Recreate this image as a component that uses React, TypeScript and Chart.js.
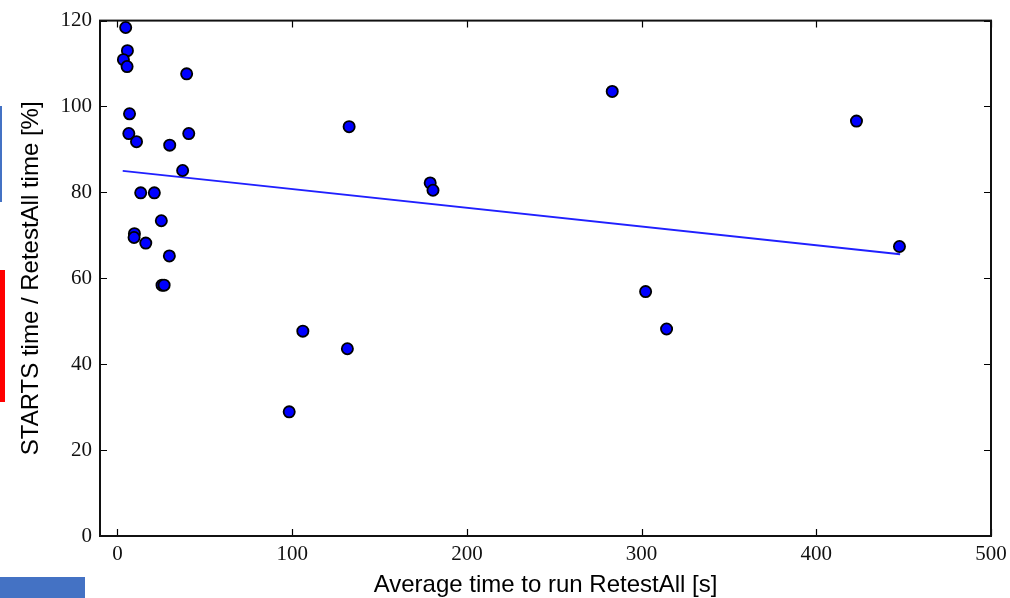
import React, { useEffect, useRef } from "react";
import { Chart, registerables } from "chart.js";

Chart.register(...registerables);

const retestAllTime: number[] = [
  4.7, 5.7, 3.4, 5.5, 39.6, 6.9, 6.5, 10.9, 40.8, 29.9,
  37.3, 13.3, 21.1, 25.1, 9.7, 9.5, 16.2, 29.7, 25.5, 26.7,
  179, 180.6, 283.2, 302.3, 314.3, 423, 447.6, 132.6, 106.1, 131.6, 98.3,
];
const startsRatio: number[] = [
  118.4, 113, 110.9, 109.3, 107.6, 98.3, 93.7, 91.8, 93.7, 91.0,
  85.1, 79.9, 79.9, 73.4, 70.4, 69.5, 68.2, 65.2, 58.4, 58.4,
  82.2, 80.5, 103.5, 56.9, 48.2, 96.6, 67.4, 95.3, 47.7, 43.6, 28.9,
];
const fitX: number[] = [3, 448];
const fitY: number[] = [85.0, 65.6];
const xTicks: number[] = [0, 100, 200, 300, 400, 500];
const yTicks: number[] = [0, 20, 40, 60, 80, 100, 120];
const xTitle = "Average time to run RetestAll [s]";
const yTitle = "STARTS time / RetestAll time [%]";

const framePlugin = {
  id: "frameTicks",
  afterDraw(chart: any) {
    const { ctx, chartArea } = chart;
    const { left, right, top, bottom } = chartArea;
    const xs = chart.scales.x;
    const ys = chart.scales.y;
    ctx.save();
    ctx.strokeStyle = "#000";
    ctx.lineWidth = 1.2;
    const L = 7;
    xTicks.forEach((v) => {
      const px = Math.round(xs.getPixelForValue(v)) + 0.5;
      ctx.beginPath();
      ctx.moveTo(px, bottom);
      ctx.lineTo(px, bottom - L);
      ctx.moveTo(px, top);
      ctx.lineTo(px, top + L);
      ctx.stroke();
    });
    yTicks.forEach((v) => {
      const py = Math.round(ys.getPixelForValue(v)) + 0.5;
      ctx.beginPath();
      ctx.moveTo(left, py);
      ctx.lineTo(left + L, py);
      ctx.moveTo(right, py);
      ctx.lineTo(right - L, py);
      ctx.stroke();
    });
    ctx.lineWidth = 2;
    ctx.strokeStyle = "#111";
    ctx.strokeRect(left, top, right - left, bottom - top);
    ctx.restore();
  },
};

export default function App() {
  const ref = useRef<HTMLCanvasElement | null>(null);
  useEffect(() => {
    if (!ref.current) return;
    const tickFont = { family: "'Liberation Serif', serif", size: 21 };
    const titleFont = { family: "'Liberation Sans', Arial, sans-serif", size: 24 };
    const chart = new Chart(ref.current, {
      type: "scatter",
      data: {
        datasets: [
          {
            label: "projects",
            data: retestAllTime.map((x, i) => ({ x, y: startsRatio[i] })),
            backgroundColor: "#0000ff",
            borderColor: "#000000",
            borderWidth: 1.8,
            pointRadius: 5.6,
            order: 1,
          },
          {
            label: "fit",
            data: fitX.map((x, i) => ({ x, y: fitY[i] })),
            showLine: true,
            borderColor: "#2020ff",
            borderWidth: 1.8,
            pointRadius: 0,
            fill: false,
            order: 2,
          } as any,
        ],
      },
      options: {
        animation: false,
        responsive: false,
        maintainAspectRatio: false,
        layout: { padding: { top: 19, right: 19, left: 0, bottom: 0 } },
        plugins: { legend: { display: false }, tooltip: { enabled: false } },
        scales: {
          x: {
            type: "linear",
            min: -10,
            max: 500,
            grid: { display: false, drawTicks: false },
            border: { display: false },
            afterBuildTicks: (s: any) => {
              s.ticks = xTicks.map((v) => ({ value: v }));
            },
            afterFit: (s: any) => {
              s.height = 62;
              s.paddingLeft = 0;
              s.paddingRight = 0;
            },
            ticks: {
              color: "#111",
              font: tickFont,
              padding: 6,
              maxRotation: 0,
              callback: (v: any) => String(v),
            },
            title: {
              display: true,
              text: xTitle,
              color: "#000",
              font: titleFont,
              padding: { top: 0, bottom: -2 },
            },
          },
          y: {
            type: "linear",
            min: 0,
            max: 120,
            grid: { display: false, drawTicks: false },
            border: { display: false },
            afterBuildTicks: (s: any) => {
              s.ticks = yTicks.map((v) => ({ value: v }));
            },
            afterFit: (s: any) => {
              s.width = 100;
            },
            ticks: {
              color: "#111",
              font: tickFont,
              padding: 8,
              callback: (v: any) => String(v),
            },
            title: {
              display: true,
              text: yTitle,
              color: "#000",
              font: titleFont,
              padding: { top: 17, bottom: 0 },
            },
          },
        },
      },
      plugins: [framePlugin],
    });
    return () => chart.destroy();
  }, []);

  return (
    <div style={{ position: "fixed", left: 0, top: 0, width: 1010, height: 598, background: "#fff", overflow: "hidden" }}>
      <canvas ref={ref} width={1010} height={598} style={{ position: "absolute", left: 0, top: 0, width: 1010, height: 598 }} />
      <div style={{ position: "absolute", left: 0, top: 106, width: 2, height: 96, background: "#4472c4" }} />
      <div style={{ position: "absolute", left: 0, top: 270, width: 5, height: 132, background: "#ff0000" }} />
      <div style={{ position: "absolute", left: 0, top: 577, width: 85, height: 21, background: "#4472c4" }} />
    </div>
  );
}
